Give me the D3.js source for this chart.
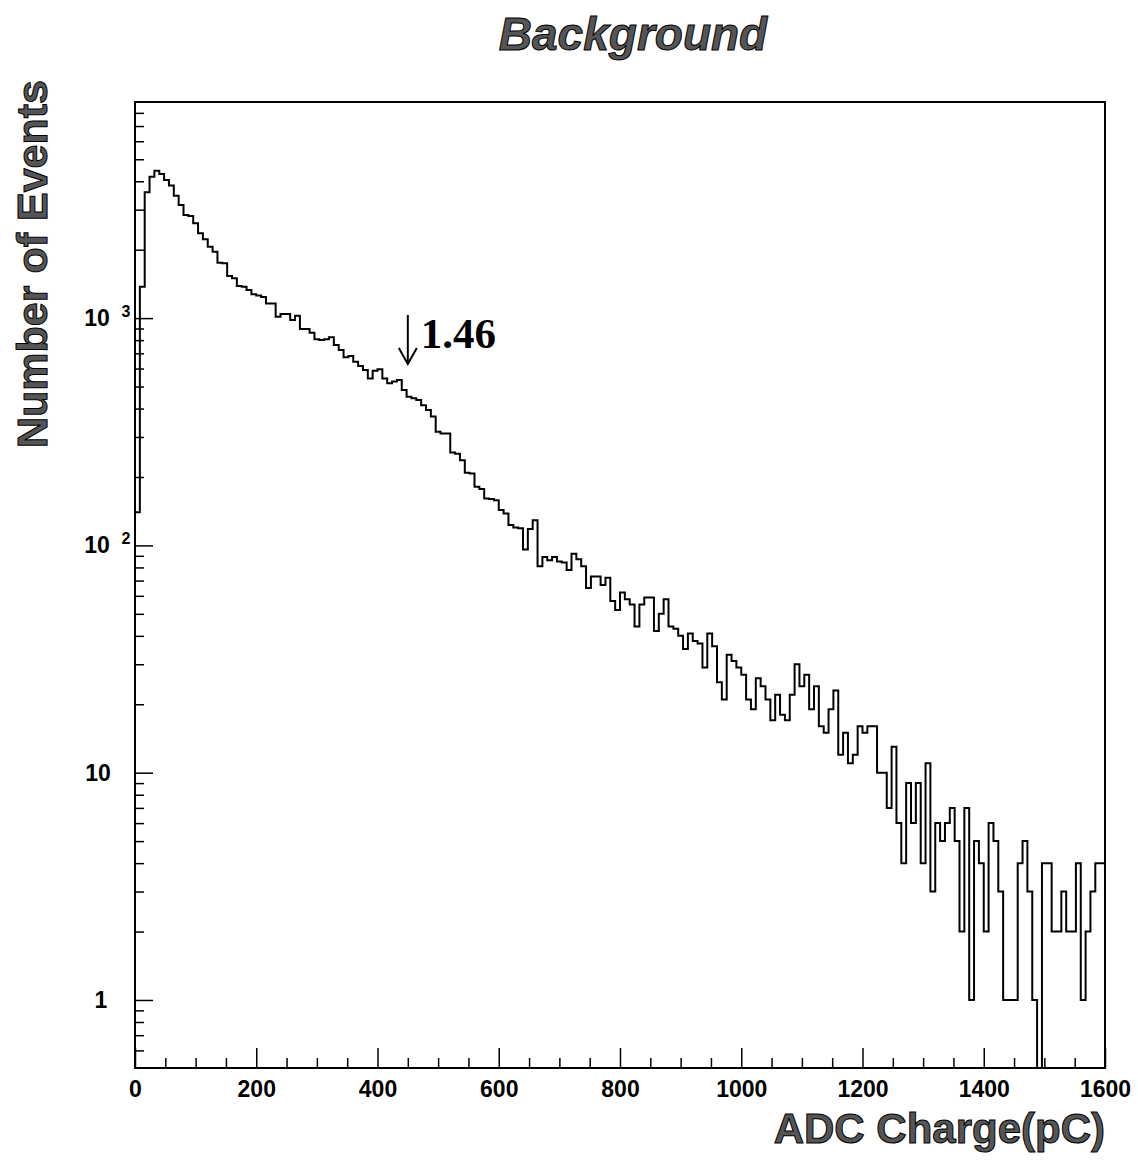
<!DOCTYPE html>
<html lang="en">
<head>
<meta charset="UTF-8">
<title>Background</title>
<style>
  body { margin: 0; background: #fff; }
  svg { display: block; }
  .sans { font-family: "Liberation Sans", Arial, Helvetica, sans-serif; font-weight: bold; }
  .ticks line { stroke: #000; stroke-width: 1.5; }
  .ticks path { display: none; }
</style>
</head>
<body>
<svg id="chart"></svg>
<script src="https://cdnjs.cloudflare.com/ajax/libs/d3/7.8.5/d3.min.js"></script>
<script>
// ADC charge histogram, 8 pC bins from 0 to 1600 pC
var binWidth = 8;
var counts = [
  140, 1374, 3575, 4188, 4453, 4305, 4055, 3828, 3458, 3147,
  2845, 2815, 2613, 2362, 2222, 2061, 1960, 1753, 1745, 1531,
  1496, 1384, 1374, 1330, 1273, 1256, 1240, 1161, 1161, 1014,
  1042, 1042, 982, 1025, 896, 896, 863, 807, 801, 807,
  823, 762, 724, 672, 681, 643, 615, 591, 543, 587,
  596, 543, 517, 526, 534, 483, 451, 444, 436, 414,
  394, 369, 316, 311, 311, 256, 253, 237, 209, 207,
  181, 177, 161, 160, 158, 143, 138, 123, 120, 119,
  96, 118, 129, 81, 89, 86, 89, 85, 84, 78,
  92, 87, 81, 65, 73, 73, 67, 72, 57, 52,
  62, 58, 55, 44, 55, 59, 59, 42, 50, 58,
  44, 43, 40, 35, 41, 38, 37, 29, 41, 36,
  25, 21, 33, 31, 29, 27, 21, 19, 26, 24,
  21, 17, 22, 18, 17, 22, 30, 24, 27, 19,
  24, 16, 15, 19, 23, 12, 15, 11, 12, 16,
  15, 16, 16, 10, 10, 7, 13, 6, 4, 9,
  6, 9, 4, 11, 3, 6, 5, 6, 7, 5,
  2, 7, 1, 5, 4, 2, 6, 5, 3, 1,
  1, 1, 4, 5, 3, 1, 0, 4, 4, 2,
  2, 3, 2, 2, 4, 1, 2, 3, 4, 4
];

var xTickValues = [0, 200, 400, 600, 800, 1000, 1200, 1400, 1600];
var yTickValues = [1, 10, 100, 1000];
var yTickBase = ["1", "10", "10", "10"];
var yTickExp = ["", "", "2", "3"];

var titleText = "Background";
var xTitle = "ADC Charge(pC)";
var yTitle = "Number of Events";
var markerCharge = [450];
var markerText = ["1.46"];

var totalWidth = 1138, totalHeight = 1160;
var plot = { left: 135, right: 1105, top: 102, bottom: 1068 };

var svg = d3.select("#chart")
  .attr("width", totalWidth)
  .attr("height", totalHeight);

var x = d3.scaleLinear()
  .domain([0, 1600])
  .range([plot.left, plot.right]);

var y = d3.scaleLog()
  .domain([0.502, 8930])
  .range([plot.bottom, plot.top]);

// minor ticks
var xMinor = d3.range(0, 1601, 50).filter(function(v) { return v % 200 !== 0; });
var yMinor = [];
[0.1, 1, 10, 100, 1000].forEach(function(dec) {
  for (var k = 2; k <= 9; k++) {
    var v = k * dec;
    if (v > y.domain()[0] && v < y.domain()[1]) yMinor.push(v);
  }
});

svg.append("g")
  .attr("class", "ticks")
  .attr("transform", "translate(0," + plot.bottom + ")")
  .call(d3.axisBottom(x).tickValues(xMinor).tickSize(-10).tickFormat(""));

svg.append("g")
  .attr("class", "ticks xaxis")
  .attr("transform", "translate(0," + plot.bottom + ")")
  .call(d3.axisBottom(x).tickValues(xTickValues).tickSize(-20).tickPadding(13).tickFormat(d3.format("d")))
  .selectAll("text")
  .attr("class", "sans")
  .style("font-size", "23px")
  .attr("fill", "#000");

svg.append("g")
  .attr("class", "ticks")
  .attr("transform", "translate(" + plot.left + ",0)")
  .call(d3.axisLeft(y).tickValues(yMinor).tickSize(-9).tickFormat(""));

svg.append("g")
  .attr("class", "ticks")
  .attr("transform", "translate(" + plot.left + ",0)")
  .call(d3.axisLeft(y).tickValues(yTickValues).tickSize(-18).tickFormat(""));

// y labels with exponents
var ylab = svg.append("g").attr("class", "sans");
yTickValues.forEach(function(v, i) {
  var cx = yTickExp[i] ? 97 : (yTickBase[i].length > 1 ? 98 : 101);
  ylab.append("text")
    .attr("x", cx)
    .attr("y", y(v) + 8)
    .attr("text-anchor", "middle")
    .style("font-size", "23px")
    .text(yTickBase[i]);
  if (yTickExp[i]) {
    ylab.append("text")
      .attr("x", 126)
      .attr("y", y(v) - 1)
      .attr("text-anchor", "middle")
      .style("font-size", "16px")
      .text(yTickExp[i]);
  }
});

// histogram outline
svg.append("clipPath").attr("id", "clip")
  .append("rect")
  .attr("x", plot.left).attr("y", plot.top)
  .attr("width", plot.right - plot.left)
  .attr("height", plot.bottom - plot.top);

var yPix = function(c) { return c > 0 ? y(c) : plot.bottom + 20; };
var pts = [[x(0), plot.bottom]];
counts.forEach(function(c, i) {
  pts.push([x(i * binWidth), yPix(c)]);
  pts.push([x((i + 1) * binWidth), yPix(c)]);
});
pts.push([x(counts.length * binWidth), plot.bottom]);

svg.append("path")
  .attr("clip-path", "url(#clip)")
  .attr("d", d3.line()(pts))
  .attr("fill", "none")
  .attr("stroke", "#000")
  .attr("stroke-width", 2);

// frame
svg.append("rect")
  .attr("x", plot.left).attr("y", plot.top)
  .attr("width", plot.right - plot.left)
  .attr("height", plot.bottom - plot.top)
  .attr("fill", "none")
  .attr("stroke", "#000")
  .attr("stroke-width", 2);

// marker arrow + label
var mx = x(markerCharge[0]);
svg.append("line")
  .attr("x1", mx).attr("x2", mx)
  .attr("y1", 315).attr("y2", 363)
  .attr("stroke", "#000").attr("stroke-width", 2);
svg.append("path")
  .attr("d", "M" + (mx - 9) + ",348L" + mx + ",364L" + (mx + 9) + ",348")
  .attr("fill", "none").attr("stroke", "#000").attr("stroke-width", 2);
svg.append("text")
  .attr("x", mx + 13)
  .attr("y", 348)
  .style("font-family", "'Liberation Serif', 'Times New Roman', serif")
  .style("font-weight", "bold")
  .style("font-size", "43px")
  .text(markerText[0]);

// titles
svg.append("text")
  .attr("class", "sans")
  .attr("x", 633)
  .attr("y", 50)
  .attr("text-anchor", "middle")
  .style("font-size", "46px")
  .style("font-style", "italic")
  .attr("fill", "#555")
  .attr("stroke", "#000")
  .attr("stroke-width", 1)
  .text(titleText);

svg.append("text")
  .attr("class", "sans")
  .attr("x", plot.right)
  .attr("y", 1143)
  .attr("text-anchor", "end")
  .style("font-size", "42px")
  .attr("fill", "#555")
  .attr("stroke", "#000")
  .attr("stroke-width", 1)
  .text(xTitle);

svg.append("text")
  .attr("class", "sans")
  .attr("transform", "translate(47,80) rotate(-90)")
  .attr("text-anchor", "end")
  .style("font-size", "43px")
  .attr("fill", "#555")
  .attr("stroke", "#000")
  .attr("stroke-width", 1)
  .text(yTitle);
</script>
</body>
</html>
